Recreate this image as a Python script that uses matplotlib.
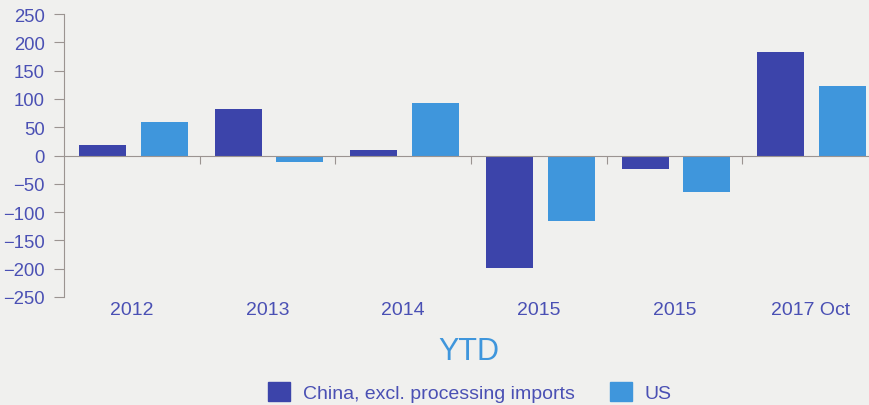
import numpy as np
import matplotlib.pyplot as plt
from matplotlib.patches import Patch

# data
categories = ['2012', '2013', '2014', '2015', '2015', '2017 Oct']
china = [18, 82, 9, -198, -23, 183]
us = [60, -12, 92, -115, -64, 122]
series_names = ['China, excl. processing imports', 'US']

dark_blue = '#3c44aa'
light_blue = '#3f96dc'
text_col = '#4a50b4'
axis_col = '#9b9491'
bg = '#f0f0ee'

plt.rcParams['font.family'] = ['Liberation Sans', 'DejaVu Sans']

fig = plt.figure(figsize=(8.7, 4.06), dpi=100, facecolor=bg)
ax = fig.add_axes([64 / 870, 1 - 298 / 406, 814 / 870, 283 / 406])
ax.set_facecolor(bg)

x = np.arange(len(categories))
w = 47 / 136
ax.bar(x - 0.5 + 15 / 136 + w / 2, china, width=w, color=dark_blue, label=series_names[0])
ax.bar(x - 0.5 + 77 / 136 + w / 2, us, width=w, color=light_blue, label=series_names[1])

ax.set_xlim(-0.5, len(categories) - 0.5)
ax.set_ylim(-250, 250)
ax.set_yticks(np.arange(-250, 251, 50))

# boundaries as major ticks, labels on minor ticks at centres
ax.set_xticks(np.arange(0.5, len(categories) - 0.5, 1))
ax.set_xticklabels([])
ax.set_xticks(x, minor=True)
ax.set_xticklabels(categories, minor=True)
ax.tick_params(axis='x', which='major', length=6, color=axis_col, direction='out')
ax.tick_params(axis='x', which='minor', length=0, pad=105, labelsize=14, labelcolor=text_col)
ax.tick_params(axis='y', length=7, color=axis_col, labelsize=13.3, labelcolor=text_col, pad=7)

for s in ['top', 'right']:
    ax.spines[s].set_visible(False)
ax.spines['left'].set_color(axis_col)
ax.spines['bottom'].set_color(axis_col)
ax.spines['bottom'].set_position(('data', 0))

fig.text(469 / 870, 1 - 352 / 406, 'YTD', ha='center', va='center',
         fontsize=22, color=light_blue)

handles = [Patch(color=dark_blue), Patch(color=light_blue)]
fig.legend(handles, series_names, loc='center', bbox_to_anchor=(470 / 870, 1 - 393 / 406),
           ncol=2, frameon=False, fontsize=14, labelcolor=text_col,
           handlelength=1.1, handleheight=1.1, handletextpad=0.67, columnspacing=1.85,
           borderpad=0, borderaxespad=0)

fig.savefig('out.png', dpi=100, facecolor=bg)
